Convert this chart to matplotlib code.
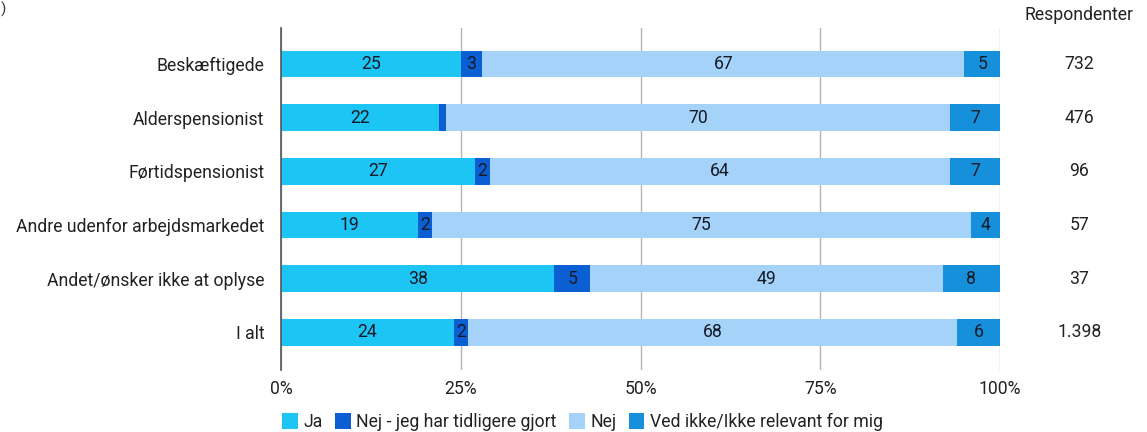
import numpy as np
import matplotlib
matplotlib.use("Agg")
import matplotlib.pyplot as plt

plt.rcParams['font.family'] = ['Roboto', 'DejaVu Sans']

categories = ["Beskæftigede", "Alderspensionist", "Førtidspensionist",
              "Andre udenfor arbejdsmarkedet", "Andet/ønsker ikke at oplyse", "I alt"]
ja = [25, 22, 27, 19, 38, 24]
nej_tidl = [3, 1, 2, 2, 5, 2]
nej = [67, 70, 64, 75, 49, 68]
ved_ikke = [5, 7, 7, 4, 8, 6]
respondenter = ["732", "476", "96", "57", "37", "1.398"]

series = [
    ("Ja", ja, "#1cc5f4"),
    ("Nej - jeg har tidligere gjort", nej_tidl, "#0b5fd3"),
    ("Nej", nej, "#a5d2f8"),
    ("Ved ikke/Ikke relevant for mig", ved_ikke, "#1690db"),
]
FS = 12.7
TXT = "#222222"

fig = plt.figure(figsize=(11.47, 4.32), dpi=100)
ax = fig.add_axes([0.245, 0.1435, 0.627, 0.7915])

y = np.arange(len(categories))
left = np.zeros(len(categories))
for name, vals, color in series:
    vals = np.array(vals, dtype=float)
    bars = ax.barh(y, vals, left=left, height=0.5, color=color, label=name, zorder=3)
    for b, v in zip(bars, vals):
        if v >= 2:
            ax.text(b.get_x() + b.get_width() / 2, b.get_y() + b.get_height() / 2,
                    f"{int(v)}", ha="center", va="center", fontsize=FS,
                    color="#161a28", zorder=4)
    left += vals

ax.set_xlim(0, 100)
ax.set_ylim(5.7, -0.67)
ax.set_yticks(y)
ax.set_yticklabels(categories, fontsize=FS, color=TXT)
ax.set_xticks([0, 25, 50, 75, 100])
ax.set_xticklabels(["0%", "25%", "50%", "75%", "100%"], fontsize=FS, color=TXT)
ax.tick_params(axis="both", length=0)
ax.tick_params(axis="x", pad=7)
ax.tick_params(axis="y", pad=12)
ax.grid(axis="x", color="#b5b5b5", linewidth=1, zorder=0)
for s in ["top", "right", "bottom"]:
    ax.spines[s].set_visible(False)
ax.spines["left"].set_color("#555555")
ax.spines["left"].set_linewidth(1.2)
ax.spines["left"].set_zorder(5)

# respondent column
for yi, r in zip(y, respondenter):
    ax.text(111, yi, r, ha="center", va="center", fontsize=FS,
            color=TXT, clip_on=False)
ax.text(111, -0.75, "Respondenter", ha="center", va="bottom", fontsize=FS,
        color=TXT, clip_on=False)

fig.text(0.001, 0.995, ")", ha="left", va="top", fontsize=11, color="#333333")

leg = ax.legend(loc="upper left", bbox_to_anchor=(-0.008, -0.105), ncol=4,
                frameon=False, fontsize=FS, handlelength=0.9, handleheight=1.0,
                handletextpad=0.3, columnspacing=0.7, borderaxespad=0)
for t in leg.get_texts():
    t.set_color(TXT)

fig.savefig("out.png", dpi=100)
